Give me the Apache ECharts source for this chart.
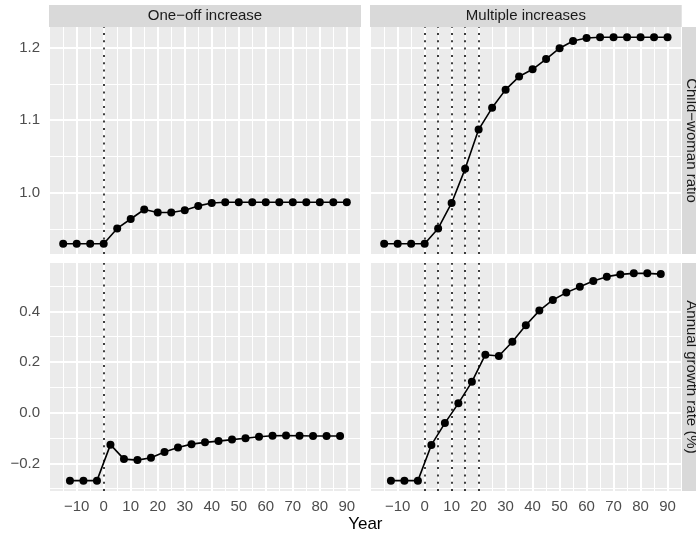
<!DOCTYPE html>
<html>
<head>
<meta charset="utf-8">
<script src="https://cdn.jsdelivr.net/npm/echarts@6/dist/echarts.min.js"></script>
<style>html,body{margin:0;padding:0;background:#fff;}#c{width:696px;height:535px;}</style>
</head>
<body>
<div id="c"></div>
<script>
// ---- data ----
const panelTitles = ['One\u2212off increase', 'Multiple increases'];
const rowTitles = ['Child\u2212woman ratio', 'Annual growth rate (%)'];
const xTitle = 'Year';
const yearsLevel = [-15,-10,-5,0,5,10,15,20,25,30,35,40,45,50,55,60,65,70,75,80,85,90];
const yearsGrowth = [-12.5,-7.5,-2.5,2.5,7.5,12.5,17.5,22.5,27.5,32.5,37.5,42.5,47.5,52.5,57.5,62.5,67.5,72.5,77.5,82.5,87.5];
const cwrOneOff = [0.930,0.930,0.930,0.930,0.951,0.964,0.977,0.973,0.973,0.976,0.982,0.986,0.987,0.987,0.987,0.987,0.987,0.987,0.987,0.987,0.987,0.987];
const cwrMultiple = [0.930,0.930,0.930,0.930,0.951,0.986,1.033,1.087,1.117,1.142,1.160,1.170,1.184,1.199,1.209,1.213,1.214,1.214,1.214,1.214,1.214,1.214];
const growthOneOff = [-0.268,-0.268,-0.268,-0.126,-0.183,-0.187,-0.178,-0.155,-0.137,-0.124,-0.117,-0.112,-0.106,-0.101,-0.095,-0.091,-0.090,-0.091,-0.092,-0.092,-0.092];
const growthMultiple = [-0.268,-0.268,-0.268,-0.127,-0.041,0.037,0.122,0.229,0.224,0.280,0.345,0.403,0.445,0.474,0.497,0.520,0.537,0.546,0.550,0.550,0.547];
const vlinesOneOff = [0];
const vlinesMultiple = [0,5,10,15,20];
const xTicks = [-10,0,10,20,30,40,50,60,70,80,90];
const xMinor = [-20,-15,-5,5,15,25,35,45,55,65,75,85,95];
const yTicksTop = [1.0,1.1,1.2];
const yMinorTop = [0.95,1.05,1.15];
const yTicksBottom = [-0.2,0.0,0.2,0.4];
const yMinorBottom = [-0.3,-0.1,0.1,0.3,0.5];

// ---- layout ----
const FONT = 'Liberation Sans';
const grids = [
  {left:49, top:27, width:312, height:227},
  {left:370, top:27, width:311.7, height:227},
  {left:49, top:263, width:312, height:228},
  {left:370, top:263, width:311.7, height:228}
];
function expand(arrs){
  const all = [].concat(...arrs);
  const mn = Math.min(...all), mx = Math.max(...all), r = mx - mn;
  return [mn - 0.05*r, mx + 0.05*r];
}
const xr = expand([yearsLevel, yearsGrowth]);
const yrTop = expand([cwrOneOff, cwrMultiple]);
const yrBot = expand([growthOneOff, growthMultiple]);
const fmtNum = (v, d) => v.toFixed(d).replace('-', '\u2212');

const xAxes = [], yAxes = [], series = [];
for (let i = 0; i < 4; i++) {
  const bottom = i >= 2, left = i % 2 === 0;
  xAxes.push({
    type:'value', gridIndex:i, min:xr[0], max:xr[1],
    axisLine:{show:false}, splitLine:{show:false},
    axisTick:{show:bottom, customValues:xTicks, length:3, lineStyle:{color:'#333333', width:1}},
    axisLabel:{show:bottom, customValues:xTicks, margin:8, color:'#4D4D4D', fontFamily:FONT, fontSize:15,
      formatter:v => fmtNum(v,0)}
  });
  const yt = bottom ? yTicksBottom : yTicksTop;
  const yr = bottom ? yrBot : yrTop;
  yAxes.push({
    type:'value', gridIndex:i, min:yr[0], max:yr[1],
    axisLine:{show:false}, splitLine:{show:false},
    axisTick:{show:left, customValues:yt, length:3, lineStyle:{color:'#333333', width:1}},
    axisLabel:{show:left, customValues:yt, margin:9, color:'#4D4D4D', fontFamily:FONT, fontSize:15,
      formatter:v => fmtNum(v,1)}
  });
  // gridlines
  const ym = bottom ? yMinorBottom : yMinorTop;
  const gl = [];
  xMinor.forEach(v => gl.push({xAxis:v, lineStyle:{width:1}}));
  ym.forEach(v => gl.push({yAxis:v, lineStyle:{width:1}}));
  xTicks.forEach(v => gl.push({xAxis:v, lineStyle:{width:2}}));
  yt.forEach(v => gl.push({yAxis:v, lineStyle:{width:2}}));
  series.push({
    type:'line', xAxisIndex:i, yAxisIndex:i, data:[], silent:true, z:1,
    markLine:{silent:true, symbol:'none', z:1, animation:false, label:{show:false},
      lineStyle:{color:'#FFFFFF', type:'solid'}, emphasis:{disabled:true}, data:gl}
  });
}
const panelData = [
  [yearsLevel, cwrOneOff, vlinesOneOff],
  [yearsLevel, cwrMultiple, vlinesMultiple],
  [yearsGrowth, growthOneOff, vlinesOneOff],
  [yearsGrowth, growthMultiple, vlinesMultiple]
];
panelData.forEach((p, i) => {
  series.push({
    type:'line', xAxisIndex:i, yAxisIndex:i, z:3,
    data:p[0].map((x, k) => [x, p[1][k]]),
    symbol:'circle', symbolSize:8, showSymbol:true,
    lineStyle:{color:'#000000', width:1.6}, itemStyle:{color:'#000000'},
    emphasis:{disabled:true}, animation:false,
    markLine:{silent:true, symbol:'none', z:2, animation:false, label:{show:false},
      lineStyle:{color:'#000000', width:1.5, type:[2,5.3]},
      data:p[2].map(v => ({xAxis:v}))}
  });
});

const graphics = [];
// top strips
[0,1].forEach(j => {
  const g = grids[j];
  graphics.push({type:'rect', shape:{x:g.left, y:5, width:g.width, height:22}, style:{fill:'#D9D9D9'}, silent:true});
  graphics.push({type:'text', x:g.left + g.width/2, y:16, silent:true,
    style:{text:panelTitles[j], fill:'#1A1A1A', font:'15px "Liberation Sans"', textAlign:'center', textVerticalAlign:'middle'}});
});
// right strips
[1,3].forEach((gi, j) => {
  const g = grids[gi];
  const x0 = g.left + g.width;
  graphics.push({type:'rect', shape:{x:x0, y:g.top, width:22, height:g.height}, style:{fill:'#D9D9D9'}, silent:true});
  graphics.push({type:'text', x:x0 + 9.5, y:g.top + g.height/2, rotation:-Math.PI/2, silent:true,
    style:{text:rowTitles[j], fill:'#1A1A1A', font:'15px "Liberation Sans"', textAlign:'center', textVerticalAlign:'middle'}});
});
graphics.push({type:'text', x:(grids[2].left + grids[3].left + grids[3].width)/2, y:524, silent:true,
  style:{text:xTitle, fill:'#000000', font:'17px "Liberation Sans"', textAlign:'center', textVerticalAlign:'middle'}});

const chart = echarts.init(document.getElementById('c'), null, {renderer:'canvas'});
chart.setOption({
  animation:false,
  backgroundColor:'#FFFFFF',
  grid:grids.map(g => Object.assign({show:true, backgroundColor:'#EBEBEB', borderWidth:0, containLabel:false}, g)),
  xAxis:xAxes, yAxis:yAxes, series:series, graphic:graphics
});
</script>
</body>
</html>
